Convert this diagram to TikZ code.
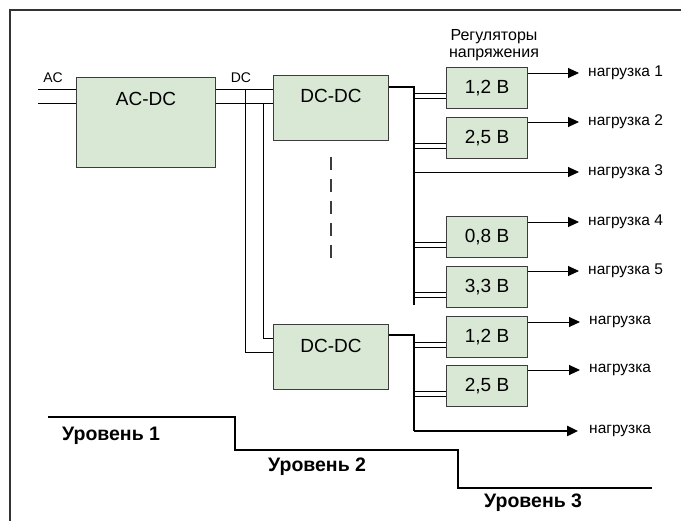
\documentclass[tikz,border=0pt]{standalone}
\usepackage{fontspec}
\setmainfont{Liberation Sans}
\usetikzlibrary{arrows.meta}
\definecolor{boxfill}{HTML}{D9E7D5}
\definecolor{boxline}{HTML}{3C3C3C}
\definecolor{frameline}{HTML}{333333}
\begin{document}
\begin{tikzpicture}[x=1pt,y=-1pt,
  box/.style={draw=boxline, fill=boxfill, line width=1.1pt, anchor=north west, inner sep=0pt},
  conv/.style={box, minimum width=115pt, minimum height=65pt},
  reg/.style={box, minimum width=81pt, minimum height=41pt, font=\fontsize{19}{22}\selectfont},
  boxtxt/.style={inner sep=0pt, font=\fontsize{19}{22}\selectfont},
  wire/.style={draw=black, line width=0.9pt},
  bus/.style={draw=black, line width=2.4pt},
  feed/.style={wire, -{Triangle[length=11pt,width=10pt]}},
  loadtxt/.style={anchor=west, inner sep=0pt, font=\fontsize{15.5}{17}\selectfont},
  smalltxt/.style={inner sep=0pt, font=\fontsize{14}{16}\selectfont},
  leveltxt/.style={anchor=west, inner sep=0pt, font=\fontsize{19.5}{22}\selectfont\bfseries},
  levelline/.style={draw=black, line width=2.4pt}
]
\useasboundingbox (0,0) rectangle (681,521);

% outer frame (top and left edges)
\draw[frameline, line width=2pt] (10,521) -- (10,10) -- (681,10);

% converters
\node[box, minimum width=139pt, minimum height=90pt] (acdc) at (76,77) {};
\node[boxtxt] (acdct) at ([yshift=-22pt]acdc.north) {AC-DC};
\node[conv] (dc1) at (273,75) {};
\node[boxtxt] (dc1t) at ([yshift=-21pt]dc1.north) {DC-DC};
\node[conv] (dc2) at (273,324) {};
\node[boxtxt] (dc2t) at ([yshift=-22pt]dc2.north) {DC-DC};

% input and intermediate bus labels
\node[smalltxt] (aclbl) at (53,78) {AC};
\node[smalltxt] (dclbl) at (241,78) {DC};
\node[smalltxt, align=center, font=\fontsize{16}{17}\selectfont] (regtitle) at (494,45) {Регуляторы\\напряжения};

% voltage regulators
\node[reg] (r1) at (446,67) {1,2 В};
\node[reg] (r2) at (446,117) {2,5 В};
\node[reg] (r3) at (446,216) {0,8 В};
\node[reg] (r4) at (446,266) {3,3 В};
\node[reg] (r5) at (446,316) {1,2 В};
\node[reg] (r6) at (446,365) {2,5 В};

% AC input pair
\coordinate (acin) at (38,89);
\draw[wire] (acin) -- (acdc.west |- acin);
\draw[wire] ([yshift=-14pt]acin) -- ([yshift=-14pt]acdc.west |- acin);

% DC distribution pair
\coordinate (dca) at (245,89);
\coordinate (dcb) at (263,103);
\draw[wire] (acdc.east |- dca) -- (dc1.west |- dca);
\draw[wire] (acdc.east |- dcb) -- (dc1.west |- dcb);
\coordinate (dcaL) at (245,352);
\coordinate (dcbL) at (263,338);
\draw[wire] (dca) -- (dcaL) -- (dc2.west |- dcaL);
\draw[wire] (dcb) -- (dcbL) -- (dc2.west |- dcbL);

% omitted converters
\draw[draw=boxline, line width=1.5pt, dash pattern=on 13pt off 9pt] (331,157) -- (331,265);

% output buses of the DC-DC converters
\coordinate (bus1end) at (414,305);
\coordinate (bus2end) at (414,431);
\draw[bus] ([yshift=-12pt]dc1.north east) -| (bus1end);
\draw[bus] ([yshift=-11pt]dc2.north east) -| (bus2end);

% regulator feeds (pairs from the bus)
\foreach \r in {r1,r2,r3,r4,r5,r6}{
  \draw[wire] ([yshift=-26pt]\r.north west) -- +(-32,0);
  \draw[wire] ([yshift=-31.5pt]\r.north west) -- +(-32,0);
}

% loads
\node[loadtxt] (l1) at (588,73) {нагрузка 1};
\node[loadtxt] (l2) at (588,122) {нагрузка 2};
\node[loadtxt] (l3) at (588,172) {нагрузка 3};
\node[loadtxt] (l4) at (588,222) {нагрузка 4};
\node[loadtxt] (l5) at (588,271) {нагрузка 5};
\node[loadtxt] (l6) at (589,322) {нагрузка};
\node[loadtxt] (l7) at (589,370) {нагрузка};
\node[loadtxt] (l8) at (589,431) {нагрузка};

\draw[feed] ([yshift=-6pt]r1.north east) -- ([xshift=-9pt]l1.west);
\draw[feed] ([yshift=-5pt]r2.north east) -- ([xshift=-9pt]l2.west);
\draw[feed] (bus1end |- l3) -- ([xshift=-9pt]l3.west);
\draw[feed] ([yshift=-6pt]r3.north east) -- ([xshift=-9pt]l4.west);
\draw[feed] ([yshift=-5pt]r4.north east) -- ([xshift=-9pt]l5.west);
\draw[feed] ([yshift=-6pt]r5.north east) -- ([xshift=-9pt]l6.west);
\draw[feed] ([yshift=-5pt]r6.north east) -- ([xshift=-9pt]l7.west);
\draw[feed, line width=2.4pt, -{Triangle[length=11pt,width=10pt]}] (bus2end) -- ([xshift=-11pt]l8.west);

% hierarchy levels
\draw[levelline] (48,417) -- (235,417) -- (235,450) -- (458,450) -- (458,488) -- (652,488);
\node[leveltxt] (lv1) at (62,436) {Уровень 1};
\node[leveltxt] (lv2) at (268,467) {Уровень 2};
\node[leveltxt] (lv3) at (484,503) {Уровень 3};
\end{tikzpicture}
\end{document}
